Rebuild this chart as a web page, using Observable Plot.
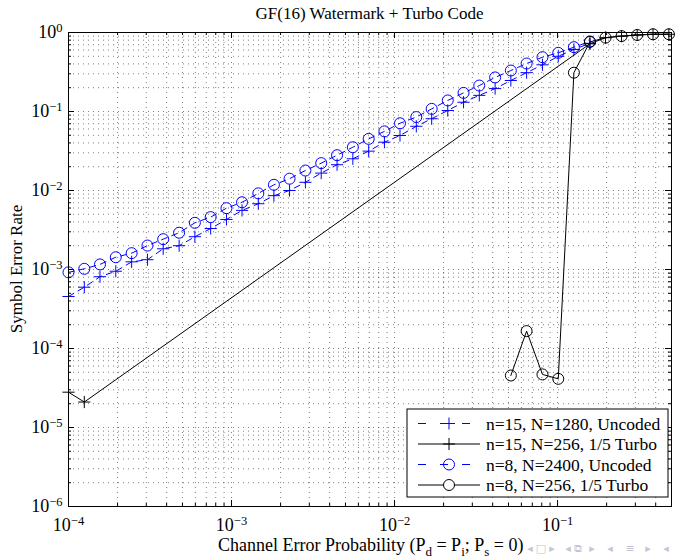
<!DOCTYPE html>
<html><head><meta charset="utf-8">
<script src="https://cdn.jsdelivr.net/npm/d3@7"></script>
<script src="https://cdn.jsdelivr.net/npm/@observablehq/plot@0.6"></script>
<style>body{margin:0;background:#fff} svg{font-family:"Liberation Serif","Times New Roman",serif}</style>
</head><body><div id="chart"></div>
<script>
// ---- data ----
const pUncoded = [1.00e-4,1.25e-4,1.56e-4,1.95e-4,2.44e-4,3.05e-4,3.81e-4,4.77e-4,5.96e-4,7.45e-4,
  9.31e-4,1.16e-3,1.46e-3,1.82e-3,2.27e-3,2.84e-3,3.55e-3,4.44e-3,5.55e-3,6.94e-3,
  8.67e-3,1.08e-2,1.36e-2,1.69e-2,2.12e-2,2.65e-2,3.31e-2,4.14e-2,5.17e-2,6.46e-2,
  8.08e-2,0.101,0.126,0.158];
const serN15Uncoded = [4.55e-4,5.97e-4,8.1e-4,9.5e-4,1.25e-3,1.33e-3,1.83e-3,2.0e-3,2.6e-3,3.3e-3,
  4.3e-3,5.6e-3,6.8e-3,8.6e-3,1.0e-2,1.27e-2,1.66e-2,2.12e-2,2.52e-2,3.15e-2,
  4.09e-2,4.97e-2,6.5e-2,8.1e-2,0.103,0.131,0.16,0.195,0.247,0.31,
  0.39,0.5,0.61,0.73];
const serN8Uncoded = [9.2e-4,1.02e-3,1.16e-3,1.43e-3,1.61e-3,2.01e-3,2.42e-3,2.92e-3,3.9e-3,4.6e-3,
  5.97e-3,7.1e-3,9.2e-3,1.18e-2,1.41e-2,1.79e-2,2.22e-2,2.8e-2,3.53e-2,4.5e-2,
  5.6e-2,7.1e-2,8.5e-2,0.108,0.138,0.172,0.213,0.27,0.33,0.405,
  0.487,0.553,0.652,0.77];
const pTurboN15 = [1.00e-4,1.25e-4,0.158,0.197,0.247,0.308,0.385,0.482];
const serTurboN15 = [2.8e-5,2.1e-5,0.72,0.86,0.9,0.93,0.95,0.95];
const pTurboN8 = [5.17e-2,6.46e-2,8.08e-2,0.101,0.126,0.158,0.197,0.247,0.308,0.385,0.482];
const serTurboN8 = [4.55e-5,1.66e-4,4.7e-5,4.13e-5,0.31,0.76,0.86,0.9,0.93,0.95,0.95];

const seriesNames = ["n=15, N=1280, Uncoded","n=15, N=256, 1/5 Turbo","n=8, N=2400, Uncoded","n=8, N=256, 1/5 Turbo"];
const xDecades = [1e-4,1e-3,1e-2,1e-1];
const yDecades = [1e-6,1e-5,1e-4,1e-3,1e-2,1e-1,1];
const minorMult = [1,2,3,4,5,6,7,8,9];
const titleText = "GF(16) Watermark + Turbo Code";
const yLabelText = "Symbol Error Rate";
const navGlyphs = ["\u25C2","\u25A1","\u25B8","\u25C2","\u29C9","\u25B8","\u25C2","\u2261","\u25B8","\u25C2"];

// ---- tables ----
const tN15U = pUncoded.map((p,i)=>({p, s: serN15Uncoded[i]}));
const tN8U = pUncoded.map((p,i)=>({p, s: serN8Uncoded[i]}));
const tN15T = pTurboN15.map((p,i)=>({p, s: serTurboN15[i]}));
const tN8T = pTurboN8.map((p,i)=>({p, s: serTurboN8[i]}));

const W=675, H=560, mL=68, mR=4, mT=32, mB=54;
const plotW = W-mL-mR, plotH = H-mT-mB;
const xMax = 0.5;
const xGrid = xDecades.flatMap(d=>minorMult.map(m=>m*d)).filter(v=>v<=xMax*1.0001);
const yGrid = yDecades.slice(0,-1).flatMap(d=>minorMult.map(m=>m*d)).concat([1]);
const xMinor = xGrid.filter(v=>!xDecades.includes(v));
const yMinor = yGrid.filter(v=>!yDecades.includes(v));
const sup = d => "10^" + Math.round(Math.log10(d));

const blue = "#0000ff";
const chart = Plot.plot({
  width: W, height: H, marginLeft: mL, marginRight: mR, marginTop: mT, marginBottom: mB,
  style: {fontFamily: "Liberation Serif, serif", background: "#fff", color: "#000"},
  x: {type: "log", domain: [1e-4, xMax]},
  y: {type: "log", domain: [1e-6, 1]},
  marks: [
    Plot.ruleX(xGrid, {x: d=>d, stroke: "#000", strokeOpacity: 0.5, strokeDasharray: "1,4"}),
    Plot.ruleY(yGrid, {y: d=>d, stroke: "#000", strokeOpacity: 0.5, strokeDasharray: "1,4"}),
    // inward ticks, all four sides
    Plot.tickX(xDecades, {x: d=>d, insetTop: plotH-6, stroke: "#000"}),
    Plot.tickX(xMinor, {x: d=>d, insetTop: plotH-3, stroke: "#000"}),
    Plot.tickX(xDecades, {x: d=>d, insetBottom: plotH-6, stroke: "#000"}),
    Plot.tickX(xMinor, {x: d=>d, insetBottom: plotH-3, stroke: "#000"}),
    Plot.tickY(yDecades, {y: d=>d, insetRight: plotW-6, stroke: "#000"}),
    Plot.tickY(yMinor, {y: d=>d, insetRight: plotW-3, stroke: "#000"}),
    Plot.tickY(yDecades, {y: d=>d, insetLeft: plotW-6, stroke: "#000"}),
    Plot.tickY(yMinor, {y: d=>d, insetLeft: plotW-3, stroke: "#000"}),
    Plot.axisX({ticks: xDecades, tickSize: 0, tickPadding: 12, tickFormat: sup, label: null, fontSize: 18}),
    Plot.axisY({ticks: yDecades, tickSize: 0, tickPadding: 6, tickFormat: sup, label: null, fontSize: 18}),
    // series 1: n=15 uncoded
    Plot.line(tN15U, {x: "p", y: "s", stroke: blue, strokeWidth: 1, strokeDasharray: "6,5"}),
    Plot.dot(tN15U, {x: "p", y: "s", symbol: "plus", r: 4, stroke: blue, strokeWidth: 1, fill: "none"}),
    // series 2: n=15 turbo
    Plot.line(tN15T, {x: "p", y: "s", stroke: "#000", strokeWidth: 1}),
    Plot.dot(tN15T, {x: "p", y: "s", symbol: "plus", r: 4, stroke: "#000", strokeWidth: 1, fill: "none"}),
    // series 3: n=8 uncoded
    Plot.line(tN8U, {x: "p", y: "s", stroke: blue, strokeWidth: 1, strokeDasharray: "6,5"}),
    Plot.dot(tN8U, {x: "p", y: "s", symbol: "circle", r: 5.5, stroke: blue, strokeWidth: 1, fill: "none"}),
    // series 4: n=8 turbo
    Plot.line(tN8T, {x: "p", y: "s", stroke: "#000", strokeWidth: 1}),
    Plot.dot(tN8T, {x: "p", y: "s", symbol: "circle", r: 5.5, stroke: "#000", strokeWidth: 1, fill: "none"}),
    Plot.frame({stroke: "#000", strokeWidth: 1})
  ]
});
document.getElementById("chart").appendChild(chart);

const svg = d3.select(chart);
// superscript tick labels
svg.selectAll("text").each(function(){
  const t = this.textContent;
  const m = /^10\^(-?\d+)$/.exec(t);
  if (!m) return;
  const el = d3.select(this);
  el.text("10");
  el.append("tspan").attr("dy", "-0.5em").style("font-size", "12.5px").text(m[1].replace("-", "\u2212"));
});

const addText = (x, y, size, anchor) => svg.append("text").attr("x", x).attr("y", y)
  .attr("text-anchor", anchor).style("font-size", size + "px").style("font-family", "Liberation Serif, serif").attr("fill", "#000");
// title
addText(mL + plotW/2, 19, 17, "middle").text(titleText);
// y label
addText(0, 0, 17, "middle").attr("transform", `translate(22,${mT + plotH/2}) rotate(-90)`).text(yLabelText);
// x label with subscripts
const xl = addText(218, 551, 18, "start");
const parts = [["Channel Error Probability (P",0],["d",1],[" = P",0],["i",1],["; P",0],["s",1],[" = 0)",0]];
let cur = 0;
parts.forEach(([s, sub])=>{
  const target = sub ? 5 : 0;
  xl.append("tspan").attr("dy", target - cur).style("font-size", sub ? "13px" : "18px").text(s);
  cur = target;
});
// beamer navigation symbols (slide decoration)
const navX = [530, 541, 552, 568, 578, 592, 610, 630, 648, 666];
navGlyphs.forEach((g, i) => {
  svg.append("text").attr("x", navX[i]).attr("y", 552).attr("text-anchor", "middle")
    .style("font-family", "DejaVu Sans").style("font-size", "11px").attr("fill", "#c4c4d6").text(g);
});

// legend
const lg = svg.append("g").attr("transform", "translate(407,409)");
lg.append("rect").attr("width", 261).attr("height", 88).attr("fill", "#fff").attr("stroke", "#000");
const styles = [
  {stroke: blue, dash: "8,14", sym: d3.symbolPlus, size: 49, fill: "none"},
  {stroke: "#000", dash: null, sym: d3.symbolPlus, size: 49, fill: "none"},
  {stroke: blue, dash: "8,14", sym: d3.symbolCircle, size: Math.PI*5.5*5.5, fill: "none"},
  {stroke: "#000", dash: null, sym: d3.symbolCircle, size: Math.PI*5.5*5.5, fill: "#fff"}
];
seriesNames.forEach((name, i)=>{
  const y = 14.5 + i*20.5;
  const st = styles[i];
  lg.append("line").attr("x1", 11).attr("x2", 73).attr("y1", y).attr("y2", y)
    .attr("stroke", st.stroke).attr("stroke-dasharray", st.dash);
  lg.append("path").attr("transform", `translate(42,${y})`)
    .attr("d", d3.symbol(st.sym, st.size)()).attr("fill", st.fill).attr("stroke", st.stroke);
  lg.append("text").attr("x", 79).attr("y", y + 6).attr("text-anchor", "start")
    .style("font-size", "17.5px").style("font-family", "Liberation Serif, serif").attr("fill", "#000").text(name);
});
</script>
</body></html>
